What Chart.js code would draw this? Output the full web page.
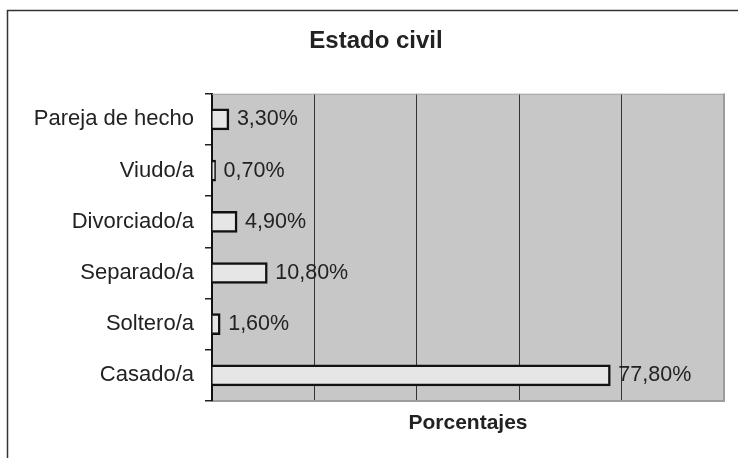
<!DOCTYPE html>
<html>
<head>
<meta charset="utf-8">
<script src="https://cdn.jsdelivr.net/npm/chart.js@4"></script>
<style>
  body { margin: 0; background: #fff; }
  canvas { display: block; }
</style>
</head>
<body>
<canvas id="estadoChart" width="738" height="458"></canvas>
<script>
var categories = ['Pareja de hecho', 'Viudo/a', 'Divorciado/a', 'Separado/a', 'Soltero/a', 'Casado/a'];
var percentages = [3.3, 0.7, 4.9, 10.8, 1.6, 77.8];
var chartTitle = 'Estado civil';
var axisTitle = 'Porcentajes';

var fontFamily = '"Liberation Sans", Arial, sans-serif';
var textColor = '#222';

// white page, outer frame and grey plot area
var backgroundPlugin = {
    id: 'background',
    beforeDraw: function (chart) {
        var ctx = chart.ctx;
        var a = chart.chartArea;
        ctx.save();
        ctx.fillStyle = '#fff';
        ctx.fillRect(0, 0, chart.width, chart.height);
        ctx.strokeStyle = '#333';
        ctx.lineWidth = 1.5;
        ctx.beginPath();
        ctx.moveTo(chart.width, 10.5);
        ctx.lineTo(7.5, 10.5);
        ctx.lineTo(7.5, chart.height);
        ctx.stroke();
        ctx.fillStyle = '#c7c7c7';
        ctx.fillRect(a.left, a.top, a.right - a.left, a.bottom - a.top);
        ctx.restore();
    },
    afterDraw: function (chart) {
        var ctx = chart.ctx;
        var a = chart.chartArea;
        ctx.save();
        ctx.strokeStyle = '#a6a6a6';
        ctx.lineWidth = 1;
        ctx.beginPath();
        ctx.moveTo(a.left, a.top + 0.5);
        ctx.lineTo(a.right, a.top + 0.5);
        ctx.stroke();
        ctx.strokeStyle = '#9c9c9c';
        ctx.lineWidth = 2;
        ctx.beginPath();
        ctx.moveTo(a.right, a.top);
        ctx.lineTo(a.right, a.bottom);
        ctx.lineTo(a.left + 1, a.bottom);
        ctx.stroke();
        ctx.restore();
    }
};

// value labels right of each bar
var valueLabelsPlugin = {
    id: 'valueLabels',
    afterDatasetsDraw: function (chart) {
        var ctx = chart.ctx;
        var meta = chart.getDatasetMeta(0);
        ctx.save();
        ctx.font = '21.5px ' + fontFamily;
        ctx.fillStyle = textColor;
        ctx.textAlign = 'left';
        ctx.textBaseline = 'middle';
        meta.data.forEach(function (bar, i) {
            var text = percentages[i].toFixed(2).replace('.', ',') + '%';
            ctx.fillText(text, bar.x + 8, bar.y);
        });
        ctx.restore();
    }
};

new Chart(document.getElementById('estadoChart'), {
    type: 'bar',
    data: {
        labels: categories,
        datasets: [{
            data: percentages,
            backgroundColor: '#e6e6e6',
            borderColor: '#111',
            borderWidth: 2.5,
            barThickness: 21
        }]
    },
    options: {
        indexAxis: 'y',
        responsive: false,
        animation: false,
        devicePixelRatio: 1,
        layout: {
            padding: { left: 28, right: 14, top: 0, bottom: 0 }
        },
        scales: {
            x: {
                min: 0,
                max: 100,
                ticks: { display: false, stepSize: 20 },
                grid: { color: '#333', lineWidth: 1, drawTicks: false },
                border: { display: false },
                title: {
                    display: true,
                    text: axisTitle,
                    color: textColor,
                    font: { family: fontFamily, size: 21, weight: 'bold' },
                    padding: { top: 0, bottom: 22 }
                },
                afterFit: function (scale) { scale.height = 57; }
            },
            y: {
                ticks: {
                    color: textColor,
                    padding: 11,
                    font: { family: fontFamily, size: 22 }
                },
                grid: {
                    drawOnChartArea: false,
                    drawTicks: true,
                    tickLength: 7,
                    color: '#222',
                    lineWidth: 1.5
                },
                border: { color: '#111', width: 2 },
                afterFit: function (scale) { scale.width = 184; }
            }
        },
        plugins: {
            legend: { display: false },
            tooltip: { enabled: false },
            title: {
                display: true,
                text: chartTitle,
                color: textColor,
                font: { family: fontFamily, size: 24, weight: 'bold' },
                padding: { top: 27, bottom: 38 }
            }
        }
    },
    plugins: [backgroundPlugin, valueLabelsPlugin]
});
</script>
</body>
</html>
